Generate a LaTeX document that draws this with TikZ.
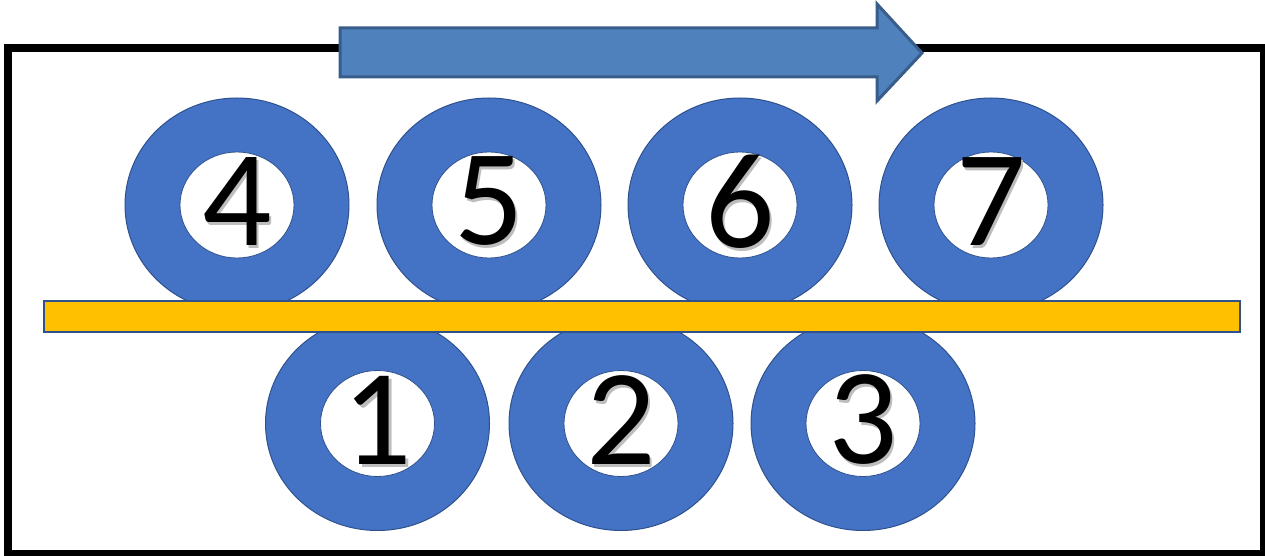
\documentclass[tikz,border=0pt]{standalone}
\usepackage{fontspec}
\setmainfont{Carlito}
\usetikzlibrary{shapes.geometric}
\definecolor{ringblue}{HTML}{4472C4}
\definecolor{ringedge}{HTML}{2F528F}
\definecolor{arrowfill}{HTML}{4F81BD}
\definecolor{arrowedge}{HTML}{385D8A}
\definecolor{bargold}{HTML}{FFC000}
\definecolor{shadowgray}{HTML}{BDBDBD}
\newcommand{\shadowdigit}[1]{\makebox[0pt][l]{\hspace{2.5pt}\raisebox{-3pt}{\textcolor{shadowgray}{#1}}}#1}
\tikzset{
  ring/.style={ellipse, fill=ringblue, draw=ringedge, line width=1pt, minimum width=224pt, minimum height=214pt, inner sep=0pt},
  hole/.style={ellipse, fill=white, draw=ringedge, line width=0.8pt, minimum width=114pt, minimum height=106pt, inner sep=0pt},
  digit/.style={font=\fontsize{137}{137}\selectfont, inner sep=0pt, text=black},
}
\begin{document}
\begin{tikzpicture}[x=1pt,y=-1pt]
\useasboundingbox (0,0) rectangle (1265,556);
% frame
\draw[line width=8pt] (8,48) rectangle (1264,554);
% arrow
\draw[fill=arrowfill, draw=arrowedge, line width=3pt, line join=miter]
  (340,28) -- (877,28) -- (877,4) -- (922,53) -- (877,101) -- (877,77) -- (340,77) -- cycle;
% rings
\foreach \n/\x/\y in {4/237/205, 5/489/205, 6/740/205, 7/991/205, 1/377.5/423.5, 2/621/423.5, 3/863/423.5}{
  \node[ring] (r\n) at (\x,\y) {};
  \node[hole] (h\n) at (r\n.center) {};
  \node[digit] (d\n) at ([yshift=2pt]h\n.center) {\shadowdigit{\n}};
}
% bar
\draw[fill=bargold, draw=ringedge, line width=2pt] (44,301) rectangle (1240,332);
\end{tikzpicture}
\end{document}
